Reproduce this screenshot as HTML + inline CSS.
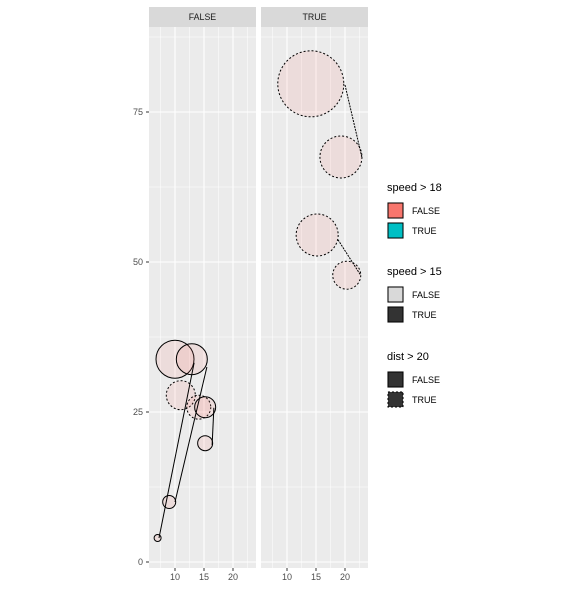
<!DOCTYPE html>
<html><head><meta charset="utf-8"><style>
body{margin:0;background:#fff;}
svg text{font-family:"Liberation Sans",sans-serif;}
</style></head><body>
<svg id="c" width="588" height="588" xmlns="http://www.w3.org/2000/svg"></svg>
<script>
const panels = ["FALSE","TRUE"];
const ptPanel = [0,0,0,0,0,0,0,0,1,1,1,1];
const ptX = [7,9,10,12.9,11,14.1,15.2,15.2,14.1,19.3,15.2,20.3];
const ptY = [4,10,33.8,33.8,27.8,25.8,25.8,19.8,79.7,67.5,54.5,47.8];
const ptSize = [3.5,6.5,19,15.5,14.5,12,10.5,7.5,33,21,21,14];
const ptDashed = [0,0,0,0,1,1,0,0,1,1,1,1];
const segPanel = [0,0,0,1,1];
const segX1 = [7.24,10,16.7,20,18.8];
const segY1 = [4,10,25.7,79.5,53.7];
const segX2 = [13.3,15.5,16.4,22.9,22.7];
const segY2 = [33.2,32.5,19.5,67.5,47.8];
const segDashed = [0,0,0,1,1];
const yTicks = [0,25,50,75];
const xTicks = [10,15,20];

const NS="http://www.w3.org/2000/svg", svg=document.getElementById('c');
function mk(t,a,p){const e=document.createElementNS(NS,t);for(const k in a)e.setAttribute(k,a[k]);(p||svg).appendChild(e);return e;}
const pLeft=[149,261], pW=107, pTop=27, pBot=568;
function xS(v,p){return pLeft[p]+26+(v-10)*5.8;}
function yS(v){return 562-v*6;}

panels.forEach((lab,p)=>{
  const g=mk('g',{});
  
  
  mk('rect',{x:pLeft[p],y:pTop,width:pW,height:pBot-pTop,fill:'#ebebeb'},g);
  [-12.5,12.5,37.5,62.5,87.5].forEach(v=>{if(yS(v)>pTop&&yS(v)<pBot)mk('line',{x1:pLeft[p],x2:pLeft[p]+pW,y1:yS(v),y2:yS(v),stroke:'#fff','stroke-width':0.5},g);});
  [7.5,12.5,17.5,22.5].forEach(v=>mk('line',{x1:xS(v,p),x2:xS(v,p),y1:pTop,y2:pBot,stroke:'#fff','stroke-width':0.5},g));
  yTicks.forEach(v=>mk('line',{x1:pLeft[p],x2:pLeft[p]+pW,y1:yS(v),y2:yS(v),stroke:'#fff','stroke-width':1.1},g));
  xTicks.forEach(v=>{
    mk('line',{x1:xS(v,p),x2:xS(v,p),y1:pTop,y2:pBot,stroke:'#fff','stroke-width':1.1},g);
    mk('line',{x1:xS(v,p),x2:xS(v,p),y1:pBot,y2:pBot+3,stroke:'#333','stroke-width':1},g);
    const t=mk('text',{x:xS(v,p),y:pBot+12,'font-size':9,fill:'#4d4d4d','text-anchor':'middle'},g);t.textContent=v;
    
  });
  const s=mk('rect',{x:pLeft[p],y:7,width:pW,height:20,fill:'#d9d9d9'},g);
  
  const st=mk('text',{x:pLeft[p]+pW/2,y:20,'font-size':8.8,fill:'#1a1a1a','text-anchor':'middle'},g);st.textContent=lab;
});
yTicks.forEach(v=>{
  mk('line',{x1:146,x2:149,y1:yS(v),y2:yS(v),stroke:'#333'});
  const t=mk('text',{x:143,y:yS(v)+3,'font-size':9,fill:'#4d4d4d','text-anchor':'end'});t.textContent=v;
  
});
ptX.forEach((x,i)=>{
  const c=mk('circle',{cx:xS(x,ptPanel[i]),cy:yS(ptY[i]),r:ptSize[i],fill:'rgba(248,118,109,0.12)',stroke:'#000','stroke-width':1,'stroke-dasharray':ptDashed[i]?'2,2':'none'});
  
  
});
segX1.forEach((x,i)=>{
  const l=mk('line',{x1:xS(x,segPanel[i]),y1:yS(segY1[i]),x2:xS(segX2[i],segPanel[i]),y2:yS(segY2[i]),stroke:'#000','stroke-width':1,'stroke-dasharray':segDashed[i]?'2,1':'none'});
  
  
});
const legs=[["speed > 18",187,[['#f8766d','none'],['#00bfc4','none']]],["speed > 15",271,[['#d9d9d9','none'],['#333','none']]],["dist > 20",356,[['#333','none'],['#333','2,2']]]];
legs.forEach(([title,y,keys])=>{
  const g=mk('g',{});
  
  
  const t=mk('text',{x:387,y:y+4,'font-size':11,fill:'#000'},g);t.textContent=title;
  keys.forEach((k,j)=>{
    const ky=y+15+j*20;
    mk('rect',{x:387,y:ky,width:17,height:17,fill:'#f2f2f2'},g);
    mk('rect',{x:388,y:ky+1,width:15,height:15,fill:k[0],stroke:'#000','stroke-width':1,'stroke-dasharray':k[1]},g);
    const lt=mk('text',{x:412,y:ky+12,'font-size':9,fill:'#000'},g);lt.textContent=j?'TRUE':'FALSE';
    
  });
});
</script>
</body></html>
